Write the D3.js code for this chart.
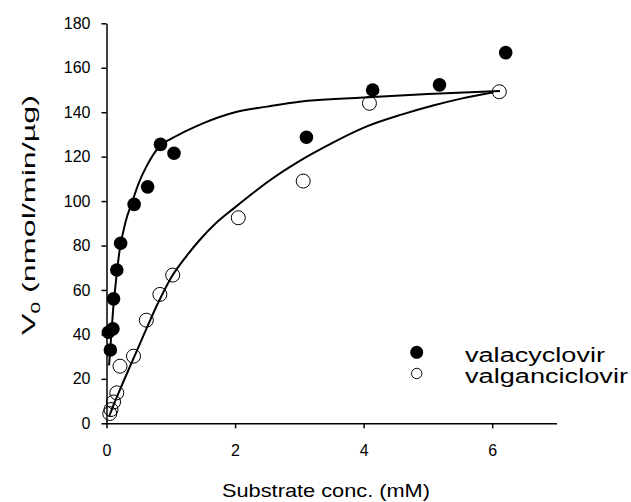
<!DOCTYPE html>
<html>
<head>
<meta charset="utf-8">
<script src="https://cdn.jsdelivr.net/npm/d3@7"></script>
<style>
  body { margin: 0; background: #fff; }
  svg { display: block; font-family: "Liberation Sans", Arial, sans-serif; }
  .axis path, .axis line { stroke: #000; stroke-width: 1.5px; }
  .axis text { font-size: 16px; fill: #000; font-family: "Liberation Sans", Arial, sans-serif; }
</style>
</head>
<body>
<script>
// measured points
var valaX = [0.06, 0.03, 0.10, 0.11, 0.16, 0.22, 0.43, 0.64, 0.84, 1.05, 3.11, 4.14, 5.18, 6.21],
    valaY = [33, 41, 42.5, 56, 69, 81, 98.5, 106.4, 125.5, 121.5, 128.7, 150, 152.3, 166.8],
    valgX = [0.05, 0.07, 0.11, 0.16, 0.21, 0.42, 0.62, 0.83, 1.03, 2.05, 3.06, 4.09, 6.11],
    valgY = [4.4, 6.2, 9.6, 13.7, 25.7, 30.2, 46.4, 58, 66.7, 92.5, 109, 144, 149.2];

// fitted curves
var fitValaX = [0.04, 0.06, 0.08, 0.1, 0.14, 0.2, 0.3, 0.41, 0.5, 0.62, 0.84, 1.0, 1.2, 1.5, 2.0, 2.5, 3.0, 4.0, 5.0, 6.12],
    fitValaY = [26, 34, 42, 50, 62, 77, 91, 100.5, 108, 115.5, 125, 128, 131, 135, 140, 142.5, 144.7, 146.6, 148.2, 149.5],
    fitValgX = [0.04, 0.1, 0.2, 0.41, 0.62, 0.8, 1.03, 1.25, 1.45, 1.7, 1.97, 2.23, 2.5, 3.0, 3.5, 4.04, 4.6, 5.08, 5.5, 6.02],
    fitValgY = [3, 7.5, 14.5, 28.5, 42.5, 54, 66.7, 75.5, 82.5, 90, 96.5, 102.5, 108.5, 118, 126, 133.5, 139, 143, 146, 149];

var xTicks = [0, 2, 4, 6],
    yTicks = [0, 20, 40, 60, 80, 100, 120, 140, 160, 180],
    seriesNames = ['valacyclovir', 'valganciclovir'];

var w = 631, h = 502;

var svg = d3.select('body').append('svg')
  .attr('width', w)
  .attr('height', h);

var x = d3.scaleLinear().domain([0, 7]).range([106.5, 556.5]),
    y = d3.scaleLinear().domain([0, 180]).range([423.3, 23.3]);

//axes
svg.append('g')
  .attr('class', 'axis')
  .attr('transform', 'translate(0,' + y(0) + ')')
  .call(d3.axisBottom(x).tickValues(xTicks).tickFormat(d3.format('d'))
    .tickSize(5).tickSizeOuter(0).tickPadding(16));

svg.append('g')
  .attr('class', 'axis')
  .attr('transform', 'translate(' + x(0) + ',0)')
  .call(d3.axisLeft(y).tickValues(yTicks).tickSize(5).tickSizeOuter(0).tickPadding(11));

//curves
var line = d3.line()
  .x(function(d){ return x(d[0]); })
  .y(function(d){ return y(d[1]); })
  .curve(d3.curveMonotoneX);

[[fitValaX, fitValaY], [fitValgX, fitValgY]].forEach(function(c){
  svg.append('path')
    .datum(d3.zip(c[0], c[1]))
    .attr('d', line)
    .attr('fill', 'none')
    .attr('stroke', '#000')
    .attr('stroke-width', 2);
});

//points
svg.append('g').selectAll('circle')
  .data(d3.zip(valgX, valgY))
  .enter().append('circle')
  .attr('cx', function(d){ return x(d[0]); })
  .attr('cy', function(d){ return y(d[1]); })
  .attr('r', 7)
  .attr('fill', 'none')
  .attr('stroke', '#000')
  .attr('stroke-width', 1);

svg.append('g').selectAll('circle')
  .data(d3.zip(valaX, valaY))
  .enter().append('circle')
  .attr('cx', function(d){ return x(d[0]); })
  .attr('cy', function(d){ return y(d[1]); })
  .attr('r', 6.8)
  .attr('fill', '#000');

//legend
var legend = svg.append('g');
legend.append('circle').attr('cx', 416.7).attr('cy', 352.3).attr('r', 6.5).attr('fill', '#000');
legend.append('circle').attr('cx', 416.7).attr('cy', 373.5).attr('r', 5.2)
  .attr('fill', 'none').attr('stroke', '#000').attr('stroke-width', 1);
legend.selectAll('text')
  .data(seriesNames)
  .enter().append('text')
  .attr('x', 465)
  .attr('y', function(d, i){ return 361.7 + i * 21.6; })
  .attr('textLength', function(d, i){ return i === 0 ? 140 : 163; })
  .attr('lengthAdjust', 'spacingAndGlyphs')
  .style('font-size', '19.5px')
  .text(function(d){ return d; });

//axis titles
svg.append('text')
  .attr('x', 222)
  .attr('y', 497)
  .attr('textLength', 208)
  .attr('lengthAdjust', 'spacingAndGlyphs')
  .style('font-size', '18.6px')
  .text('Substrate conc. (mM)');

var yt = svg.append('text')
  .attr('transform', 'translate(35,215) rotate(-90)')
  .attr('text-anchor', 'middle')
  .attr('textLength', 240)
  .attr('lengthAdjust', 'spacingAndGlyphs')
  .style('font-size', '18.6px');
yt.append('tspan').text('V');
yt.append('tspan').attr('dy', 5).style('font-size', '12px').text('0');
yt.append('tspan').attr('dy', -5).text(' (nmol/min/\u00b5g)');
</script>
</body>
</html>
